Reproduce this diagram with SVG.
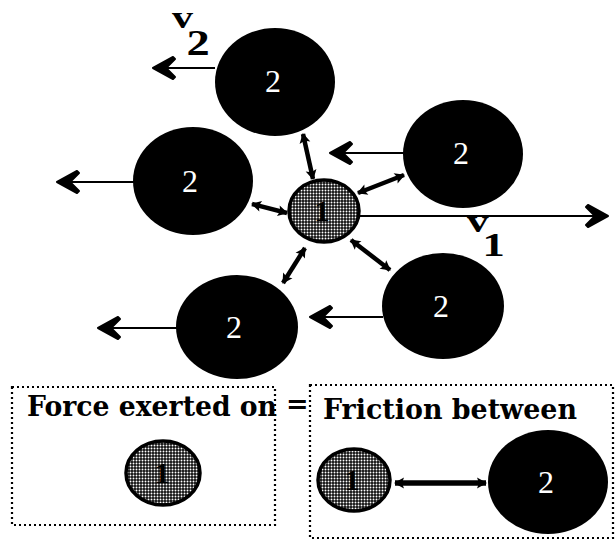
<svg xmlns="http://www.w3.org/2000/svg" width="615" height="542" viewBox="0 0 615 542">
<style>
.big{fill:#000}
.lbl2{fill:#fff;font-family:"Liberation Serif","Times New Roman",serif;font-size:32px;text-anchor:middle}
.lbl1{fill:#000;font-family:"Liberation Serif","Times New Roman",serif;font-weight:bold;font-size:30px;text-anchor:middle}
.small{fill:url(#stip);stroke:#000;stroke-width:3.5}
.vel{stroke:#000;stroke-width:2.2;fill:none;marker-end:url(#vhead)}
.fr{stroke:#000;stroke-width:4.5;fill:none;marker-start:url(#fhead);marker-end:url(#fhead)}
.box{fill:none;stroke:#000;stroke-width:2.2;stroke-dasharray:2 3}
.vt{font-family:"Liberation Serif","Times New Roman",serif;font-weight:bold;fill:#000}
.leg{font-family:"DejaVu Serif",serif;font-weight:bold;font-size:27px;fill:#000}
</style>
<defs>
<pattern id="stip" width="3" height="3" patternUnits="userSpaceOnUse">
<rect width="3" height="3" fill="#111"/>
<circle cx="1.5" cy="1.5" r="0.95" fill="#fff"/>
</pattern>
<marker id="vhead" markerUnits="userSpaceOnUse" markerWidth="30" markerHeight="30" refX="22" refY="11" orient="auto" overflow="visible">
<path d="M22,11 L2,0 L0,2 L9,11 L0,20 L2,22 Z" fill="#000" stroke="#000" stroke-width="2" stroke-linejoin="round"/>
</marker>
<marker id="fhead" markerUnits="userSpaceOnUse" markerWidth="14" markerHeight="14" refX="9" refY="5.5" orient="auto-start-reverse" overflow="visible">
<path d="M10,5.5 L0,0 L2,5.5 L0,11 Z" fill="#000"/>
</marker>
</defs>

<g id="connectors">
<line class="vel" x1="215" y1="68" x2="153" y2="68"/>
<line class="vel" x1="134" y1="182" x2="57" y2="182"/>
<line class="vel" x1="177" y1="328" x2="98" y2="328"/>
<line class="vel" x1="404" y1="153" x2="330" y2="153"/>
<line class="vel" x1="383" y1="317" x2="310" y2="317"/>
<line class="vel" x1="358" y1="216" x2="608" y2="216" style="stroke-width:1.8"/>
<line class="fr" x1="303" y1="134" x2="313" y2="179"/>
<line class="fr" x1="252" y1="204" x2="287" y2="213"/>
<line class="fr" x1="283" y1="283" x2="305" y2="248"/>
<line class="fr" x1="358" y1="193" x2="404" y2="175"/>
<line class="fr" x1="351" y1="240" x2="390" y2="270"/>
<line class="fr" x1="395" y1="483" x2="486" y2="483" style="stroke-width:5.5"/>
</g>

<g id="node-top"><ellipse class="big" cx="275" cy="82" rx="60" ry="54"/><text class="lbl2" x="273" y="92">2</text></g>
<g id="node-left"><ellipse class="big" cx="193" cy="181" rx="60" ry="54"/><text class="lbl2" x="190" y="192">2</text></g>
<g id="node-right-top"><ellipse class="big" cx="463" cy="154" rx="60" ry="54"/><text class="lbl2" x="461" y="164">2</text></g>
<g id="node-right-bottom"><ellipse class="big" cx="443" cy="306" rx="61" ry="53"/><text class="lbl2" x="441" y="317">2</text></g>
<g id="node-bottom-left"><ellipse class="big" cx="237" cy="327" rx="61" ry="52"/><text class="lbl2" x="234" y="338">2</text></g>
<g id="node-center"><ellipse class="small" cx="324" cy="211" rx="35" ry="31"/><text class="lbl1" x="322" y="221">1</text></g>

<g id="label-v2"><text class="vt" transform="translate(172,28) scale(1.45,1.1)"><tspan x="0" y="0" font-size="29">v</tspan><tspan x="10" y="24.5" font-size="32">2</tspan></text></g>
<g id="label-v1"><text class="vt" transform="translate(467,232) scale(1.35,1)"><tspan x="0" y="0" font-size="32">v</tspan><tspan x="11.5" y="24" font-size="33">1</tspan></text></g>

<g id="legend-force">
<rect class="box" x="12" y="387" width="263" height="138"/>
<text class="leg" x="27" y="416" textLength="250" lengthAdjust="spacingAndGlyphs">Force exerted on</text>
<ellipse class="small" cx="163" cy="473" rx="37" ry="32"/>
<text class="lbl1" x="162" y="483">1</text>
</g>
<text class="leg" x="286" y="413" font-size="20">=</text>
<g id="legend-friction">
<rect class="box" x="310" y="385" width="303" height="153"/>
<text class="leg" x="323" y="419" textLength="254" lengthAdjust="spacingAndGlyphs">Friction between</text>
<ellipse class="small" cx="354" cy="480" rx="36" ry="31"/>
<text class="lbl1" x="352" y="490">1</text>
<ellipse class="big" cx="548" cy="482" rx="60" ry="52"/>
<text class="lbl2" x="546" y="493">2</text>
</g>
</svg>
